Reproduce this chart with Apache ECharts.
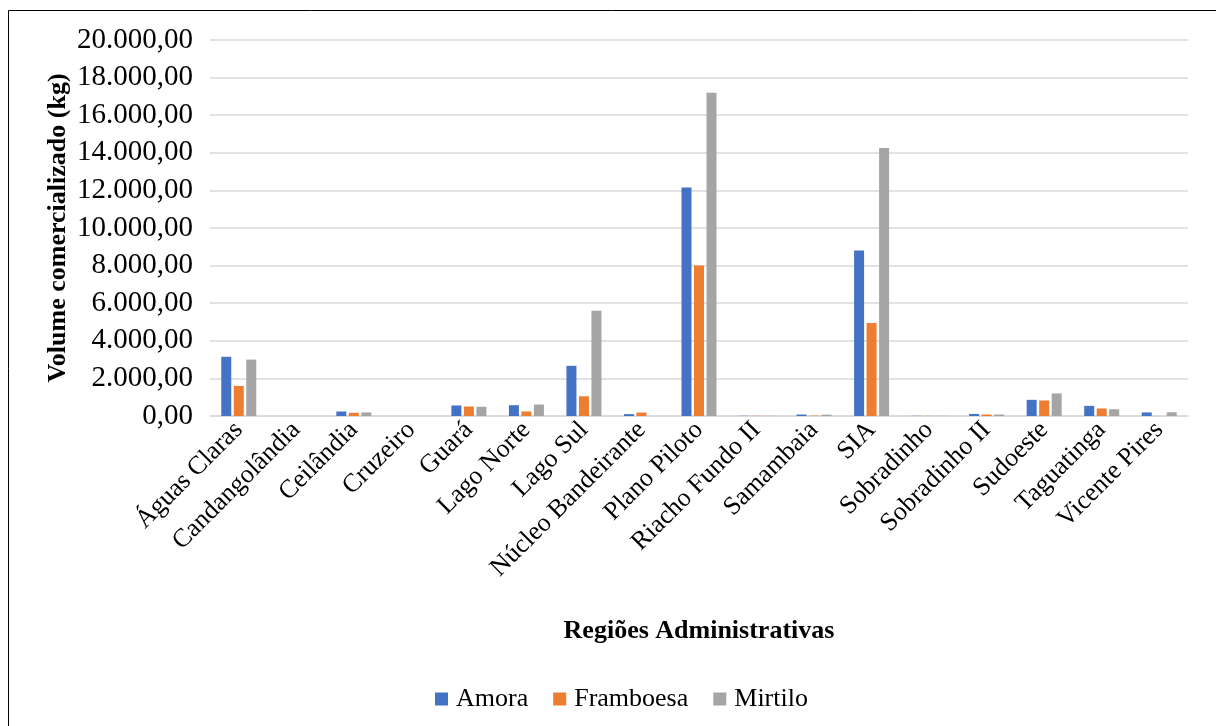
<!DOCTYPE html>
<html>
<head>
<meta charset="utf-8">
<script src="https://cdn.jsdelivr.net/npm/echarts@6/dist/echarts.min.js"></script>
<style>
html,body{margin:0;padding:0;background:#fff;}
#c{width:1216px;height:726px;}
</style>
</head>
<body>
<div id="c"></div>
<script>
const categories = ["Águas Claras","Candangolândia","Ceilândia","Cruzeiro","Guará","Lago Norte","Lago Sul","Núcleo Bandeirante","Plano Piloto","Riacho Fundo II","Samambaia","SIA","Sobradinho","Sobradinho II","Sudoeste","Taguatinga","Vicente Pires"];
const amora =     [3150, 0, 240, 0, 560, 575, 2670, 100, 12150, 10, 80, 8800, 10, 110, 860, 540, 190];
const framboesa = [1600, 0, 170, 0, 505, 240, 1050, 185, 8000, 10, 20, 4950, 10, 80, 825, 400, 0];
const mirtilo =   [3000, 0, 190, 0, 490, 610, 5600, 0, 17200, 10, 70, 14250, 10, 80, 1200, 360, 200];
const seriesNames = ["Amora","Framboesa","Mirtilo"];
const colors = ["#4472C4","#ED7D31","#A5A5A5"];

function fmt(v){
  const s = Math.round(v).toString().replace(/\B(?=(\d{3})+(?!\d))/g, ".");
  return s + ",00";
}

const chart = echarts.init(document.getElementById('c'));
const font = "'Liberation Serif', 'Times New Roman', serif";
const dataArr = [amora, framboesa, mirtilo];
chart.setOption({
  animation:false,
  backgroundColor:'#fff',
  textStyle:{fontFamily:font},
  graphic:[{type:'rect',shape:{x:8.5,y:10.5,width:1220,height:730},style:{fill:'none',stroke:'#000',lineWidth:1}}],
  grid:{left:210,right:28,top:40,bottom:310},
  legend:{bottom:9,left:430,itemWidth:13,itemHeight:13,itemGap:25,icon:'rect',
    textStyle:{fontFamily:font,fontSize:26,color:'#000',padding:[0,0,0,3]},data:seriesNames},
  xAxis:{type:'category',data:categories,
    axisLine:{lineStyle:{color:'#d9d9d9',width:1.5}},axisTick:{show:false},
    axisLabel:{rotate:45,fontFamily:font,fontSize:26,color:'#000',interval:0,margin:10},
    name:'Regiões Administrativas',nameLocation:'middle',nameGap:202,nameMoveOverlap:false,
    nameTextStyle:{fontFamily:font,fontSize:26,fontWeight:'bold',color:'#000'}},
  yAxis:{type:'value',min:0,max:20000,interval:2000,
    axisLine:{show:false},axisTick:{show:false},
    splitLine:{lineStyle:{color:'#d9d9d9',width:1.5}},
    axisLabel:{formatter:fmt,fontFamily:font,fontSize:29,color:'#000',margin:17},
    name:'Volume comercializado (kg)',nameLocation:'middle',nameGap:139,nameMoveOverlap:false,
    nameTextStyle:{fontFamily:font,fontSize:26,fontWeight:'bold',color:'#000'}},
  series: seriesNames.map((n,i)=>({name:n,type:'bar',data:dataArr[i],barWidth:10,barGap:'25%',
    itemStyle:{color:colors[i]}}))
});
</script>
</body>
</html>
